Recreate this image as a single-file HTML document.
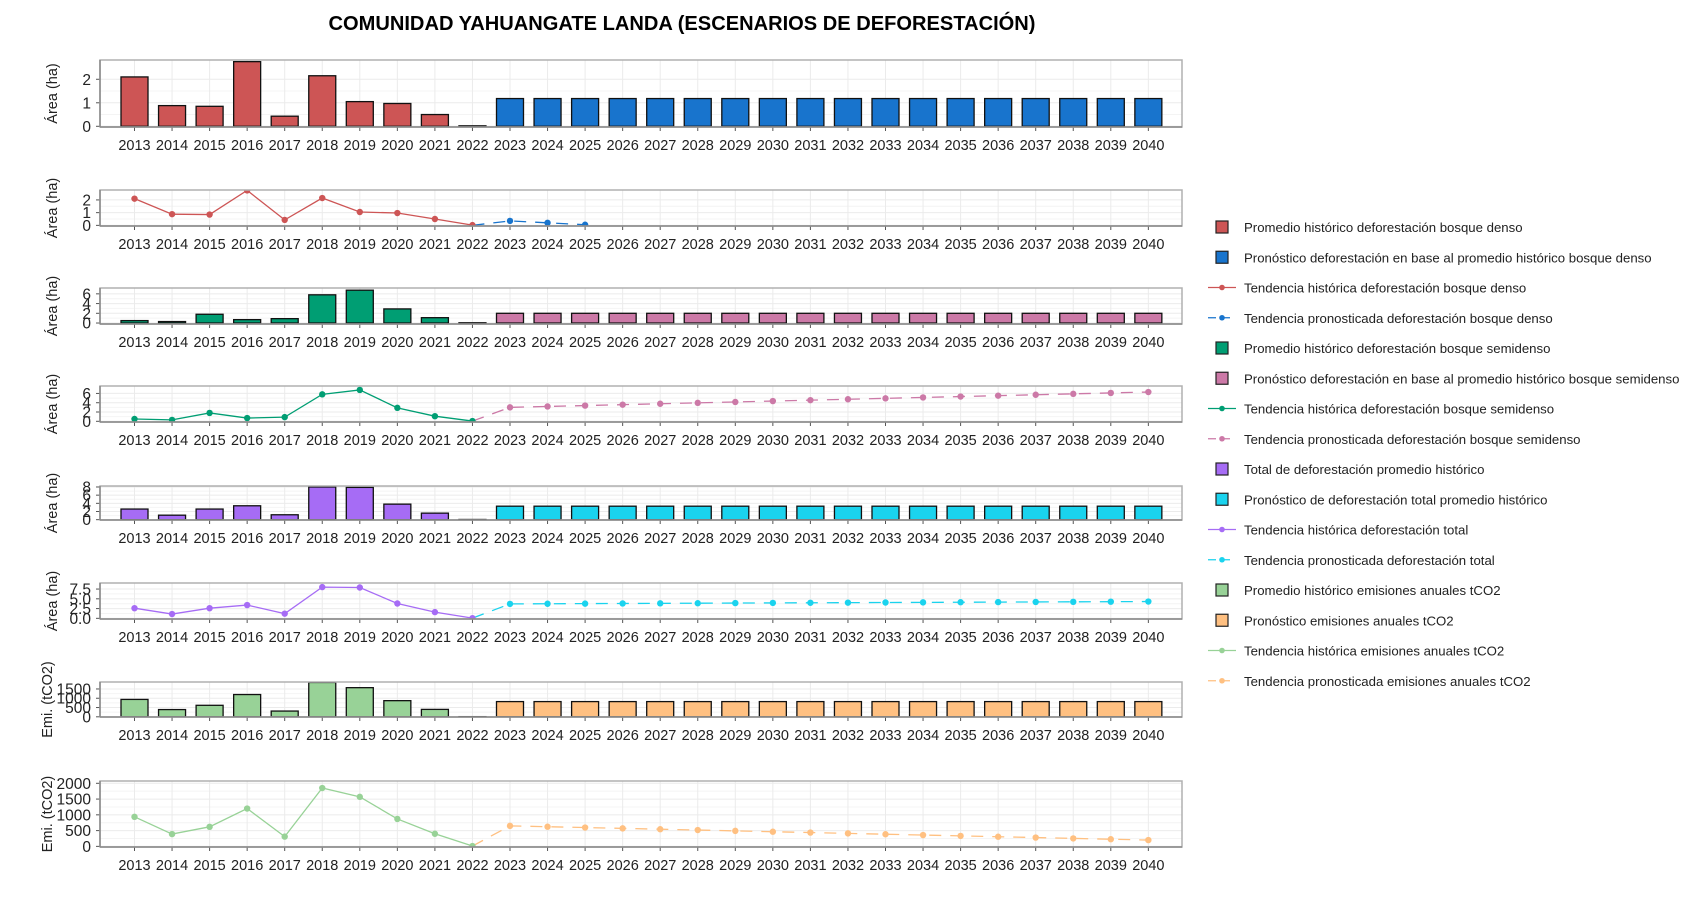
<!DOCTYPE html>
<html><head><meta charset="utf-8"><style>
html,body{margin:0;padding:0;background:#fff;}
svg{display:block;font-family:"Liberation Sans",sans-serif;}
</style></head><body>
<svg id="s" width="1700" height="900" xmlns="http://www.w3.org/2000/svg">
<rect width="1700" height="900" fill="#fff"/>
<text x="682" y="30" text-anchor="middle" font-weight="bold" font-size="20" textLength="707" lengthAdjust="spacingAndGlyphs" fill="#000">COMUNIDAD YAHUANGATE LANDA (ESCENARIOS DE DEFORESTACIÓN)</text>
</svg>
<script>
var s=document.getElementById('s');var NS='http://www.w3.org/2000/svg';
function el(t,a,txt){var e=document.createElementNS(NS,t);for(var k in a)e.setAttribute(k,a[k]);if(txt!==undefined)e.textContent=txt;s.appendChild(e);return e;}
var X0=100,X1=1182,Y2013=134.5,STEP=37.55;
function xf(i){return Y2013+i*STEP;}
var C={red:'#CD5555',blue:'#1874CD',green:'#009E73',pink:'#CC79A7',purple:'#A66CF5',cyan:'#1AD3EE',lg:'#98D297',or:'#FFC081'};
var dense=[2.1,0.88,0.85,2.75,0.43,2.15,1.05,0.97,0.5,0.02];
var semi=[0.5,0.3,1.8,0.7,0.9,5.8,6.75,2.9,1.1,0.05];
var tot=[2.6,1.1,2.6,3.4,1.2,8.0,7.9,3.8,1.6,0.05];
var emi=[937,390,620,1200,310,1850,1570,870,400,10];
function lin(a,b,n){var r=[];for(var i=0;i<n;i++)r.push(a+(b-a)*i/(n-1));return r;}
var panels=[
{t:60,b:127,lim:[-0.03,2.82],ticks:[0,1,2],lab:['0','1','2'],ytitle:'Área (ha)',bars:[dense,C.red,1.18,C.blue]},
{t:190,b:226,lim:[-0.05,2.78],ticks:[0,1,2],lab:['0','1','2'],ytitle:'Área (ha)',lines:[dense,C.red,[0,0.35,0.2,0.05],C.blue]},
{t:288,b:324,lim:[-0.2,7.2],ticks:[0,2,4,6],lab:['0','2','4','6'],ytitle:'Área (ha)',bars:[semi,C.green,2.0,C.pink]},
{t:386,b:422,lim:[-0.15,7.6],ticks:[0,2,4,6],lab:['0','2','4','6'],ytitle:'Área (ha)',lines:[semi,C.green,[0.05].concat(lin(3.0,6.3,18)),C.pink]},
{t:486,b:520,lim:[-0.08,8.24],ticks:[0,2,4,6,8],lab:['0','2','4','6','8'],ytitle:'Área (ha)',bars:[tot,C.purple,3.3,C.cyan]},
{t:583,b:619,lim:[-0.17,9.05],ticks:[0,2.5,5,7.5],lab:['0.0','2.5','5.0','7.5'],ytitle:'Área (ha)',lines:[tot,C.purple,[0.05].concat(lin(3.7,4.3,18)),C.cyan]},
{t:682,b:717,lim:[-10,1875],ticks:[0,500,1000,1500],lab:['0','500','1000','1500'],ytitle:'Emi. (tCO2)',bars:[emi,C.lg,820,C.or]},
{t:781,b:847,lim:[-20,2073],ticks:[0,500,1000,1500,2000],lab:['0','500','1000','1500','2000'],ytitle:'Emi. (tCO2)',lines:[emi,C.lg,[10].concat(lin(650,200,18)),C.or]}
];
var clipN=0;
panels.forEach(function(p){
  var t=p.t,b=p.b;function yf(v){return b-(v-p.lim[0])/(p.lim[1]-p.lim[0])*(b-t);}
  clipN++;var d=document.createElementNS(NS,'clipPath');d.setAttribute('id','c'+clipN);var r=document.createElementNS(NS,'rect');r.setAttribute('x',X0);r.setAttribute('y',t);r.setAttribute('width',X1-X0);r.setAttribute('height',b-t);d.appendChild(r);s.appendChild(d);
  for(var i=0;i<p.ticks.length-1;i++){var m=(p.ticks[i]+p.ticks[i+1])/2;el('line',{x1:X0,x2:X1,y1:yf(m),y2:yf(m),stroke:'#f4f4f4','stroke-width':1});}
  p.ticks.forEach(function(v,j){var y=yf(v);el('line',{x1:X0,x2:X1,y1:y,y2:y,stroke:'#ebebeb','stroke-width':1});
    el('line',{x1:X0-4,x2:X0,y1:y,y2:y,stroke:'#555','stroke-width':1});
    el('text',{x:X0-9,y:y+5.5,'text-anchor':'end','font-size':15.5,fill:'#222'},p.lab[j]);});
  for(var i=0;i<28;i++){var x=xf(i);el('line',{x1:x,x2:x,y1:t,y2:b,stroke:'#ebebeb','stroke-width':1});
    el('line',{x1:x,x2:x,y1:b,y2:b+4,stroke:'#555','stroke-width':1});
    el('text',{x:x,y:b+23,'text-anchor':'middle','font-size':14.5,fill:'#222'},String(2013+i));}
  var g=el('g',{'clip-path':'url(#c'+clipN+')'});
  function add(tg,a){var e=document.createElementNS(NS,tg);for(var k in a)e.setAttribute(k,a[k]);g.appendChild(e);}
  if(p.bars){var h=p.bars[0];for(var i=0;i<28;i++){var v=i<10?h[i]:p.bars[2];var col=i<10?p.bars[1]:p.bars[3];var y0=yf(0),y1=yf(v);
    add('rect',{x:xf(i)-13.5,y:Math.min(y0,y1),width:27,height:Math.max(Math.abs(y0-y1),0.5),fill:col,stroke:'#111','stroke-width':1.3});}}
  if(p.lines){var h=p.lines[0];var pts=h.map(function(v,i){return xf(i)+','+yf(v);}).join(' ');
    add('polyline',{points:pts,fill:'none',stroke:p.lines[1],'stroke-width':1.3});
    var f=p.lines[2];var fp=f.map(function(v,i){return xf(9+i)+','+yf(v);}).join(' ');
    add('polyline',{points:fp,fill:'none',stroke:p.lines[3],'stroke-width':1.3,'stroke-dasharray':'12,9'});
    h.forEach(function(v,i){add('circle',{cx:xf(i),cy:yf(v),r:3.2,fill:p.lines[1]});});
    f.forEach(function(v,i){if(i>0)add('circle',{cx:xf(9+i),cy:yf(v),r:3.2,fill:p.lines[3]});});}
  el('rect',{x:X0,y:t,width:X1-X0,height:b-t,fill:'none',stroke:'#b0b0b0','stroke-width':1.5});
  el('line',{x1:X0,x2:X1,y1:b,y2:b,stroke:'#888','stroke-width':1.5});
  el('line',{x1:X0,x2:X0,y1:t,y2:b,stroke:'#888','stroke-width':1.5});
  var cy=(t+b)/2;var tx=p.ytitle.charAt(0)=='E'?52:57;
  el('text',{x:0,y:0,transform:'translate('+tx+','+cy+') rotate(-90)','text-anchor':'middle','font-size':14.5,fill:'#222'},p.ytitle);
});
var leg=[
['b',C.red,'Promedio histórico deforestación bosque denso'],
['b',C.blue,'Pronóstico deforestación en base al promedio histórico bosque denso'],
['l',C.red,'Tendencia histórica deforestación bosque denso'],
['d',C.blue,'Tendencia pronosticada deforestación bosque denso'],
['b',C.green,'Promedio histórico deforestación bosque semidenso'],
['b',C.pink,'Pronóstico deforestación en base al promedio histórico bosque semidenso'],
['l',C.green,'Tendencia histórica deforestación bosque semidenso'],
['d',C.pink,'Tendencia pronosticada deforestación bosque semidenso'],
['b',C.purple,'Total de deforestación promedio histórico'],
['b',C.cyan,'Pronóstico de deforestación total promedio histórico'],
['l',C.purple,'Tendencia histórica deforestación total'],
['d',C.cyan,'Tendencia pronosticada deforestación total'],
['b',C.lg,'Promedio histórico emisiones anuales tCO2'],
['b',C.or,'Pronóstico emisiones anuales tCO2'],
['l',C.lg,'Tendencia histórica emisiones anuales tCO2'],
['d',C.or,'Tendencia pronosticada emisiones anuales tCO2']];
leg.forEach(function(L,i){var y=227+i*30.25;var cx=1222;
  if(L[0]=='b')el('rect',{x:cx-6,y:y-6,width:12,height:12,fill:L[1],stroke:'#222','stroke-width':1.2});
  else{el('line',{x1:cx-14,x2:cx+14,y1:y,y2:y,stroke:L[1],'stroke-width':1.3,'stroke-dasharray':L[0]=='d'?'8,6':'none'});el('circle',{cx:cx,cy:y,r:2.8,fill:L[1]});}
  el('text',{x:1244,y:y+5,'font-size':13.2,fill:'#222'},L[2]);});
</script>
</body></html>
